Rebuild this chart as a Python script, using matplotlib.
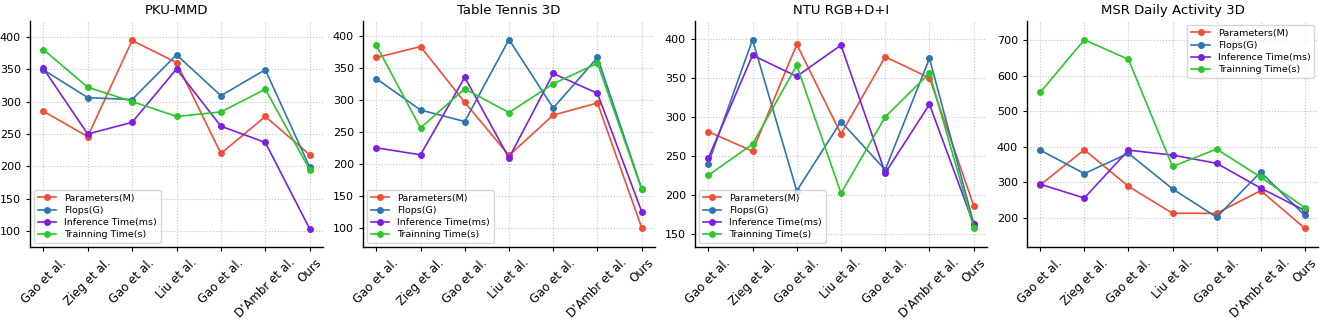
import matplotlib
matplotlib.use("Agg")
import matplotlib.pyplot as plt

methods = ["Gao et al.", "Zieg et al.", "Gao et al.", "Liu et al.", "Gao et al.", "D'Ambr et al.", "Ours"]
series_names = ["Parameters(M)", "Flops(G)", "Inference Time(ms)", "Trainning Time(s)"]
colors = ["#f24d35", "#2e75b0", "#7d1fe3", "#2bc72b"]

titles = ["PKU-MMD", "Table Tennis 3D", "NTU RGB+D+I", "MSR Daily Activity 3D"]

pku_params = [285, 246, 394, 360, 220, 277, 218]
pku_flops = [349, 306, 303, 372, 309, 349, 199]
pku_infer = [351, 250, 268, 350, 262, 237, 104]
pku_train = [380, 322, 300, 277, 284, 319, 195]

tt_params = [367, 384, 297, 214, 277, 296, 101]
tt_flops = [334, 285, 267, 395, 288, 367, 162]
tt_infer = [226, 215, 336, 210, 342, 311, 126]
tt_train = [386, 257, 318, 281, 326, 358, 161]

ntu_params = [281, 256, 393, 278, 377, 350, 186]
ntu_flops = [240, 399, 205, 294, 232, 375, 163]
ntu_infer = [247, 379, 352, 392, 228, 316, 162]
ntu_train = [225, 265, 366, 202, 300, 356, 158]

msr_params = [292, 391, 288, 212, 212, 276, 170]
msr_flops = [390, 324, 381, 281, 201, 328, 206]
msr_infer = [294, 255, 390, 376, 353, 283, 220]
msr_train = [553, 701, 646, 344, 393, 314, 228]

datasets = [
    [pku_params, pku_flops, pku_infer, pku_train],
    [tt_params, tt_flops, tt_infer, tt_train],
    [ntu_params, ntu_flops, ntu_infer, ntu_train],
    [msr_params, msr_flops, msr_infer, msr_train],
]
ylims = [(76, 424), (71, 424), (133, 423), (117, 754)]
legend_locs = ["lower left", "lower left", "lower left", "upper right"]
lefts = [30, 363, 695, 1027]
widths = [293, 292, 292, 291]

W, H = 1325, 324
fig = plt.figure(figsize=(W / 100, H / 100), dpi=100)
fig.patch.set_facecolor("white")

for i in range(4):
    ax = fig.add_axes([lefts[i] / W, 1 - 247 / H, widths[i] / W, (247 - 21) / H])
    x = list(range(len(methods)))
    for vals, name, c in zip(datasets[i], series_names, colors):
        ax.plot(x, vals, marker="o", color=c, label=name, linewidth=1.2, markersize=4)
    ax.set_ylim(*ylims[i])
    ax.set_title(titles[i], fontsize=9.5, pad=5)
    ax.set_xticks(x)
    ax.set_xticklabels(methods, rotation=45, fontsize=8.5)
    ax.tick_params(axis="y", labelsize=8, length=3, width=0.8)
    ax.tick_params(axis="x", length=3, width=0.8)
    ax.grid(True, linestyle=":", color="#c4c4c4", linewidth=0.8)
    ax.set_axisbelow(True)
    ax.spines["top"].set_visible(False)
    ax.spines["right"].set_visible(False)
    ax.spines["left"].set_linewidth(1.0)
    ax.spines["bottom"].set_linewidth(1.0)
    ax.legend(loc=legend_locs[i], fontsize=6.8, framealpha=0.8, borderaxespad=0.4,
              handlelength=2.0, labelspacing=0.35)

fig.savefig("out.png", dpi=100, facecolor="white")
